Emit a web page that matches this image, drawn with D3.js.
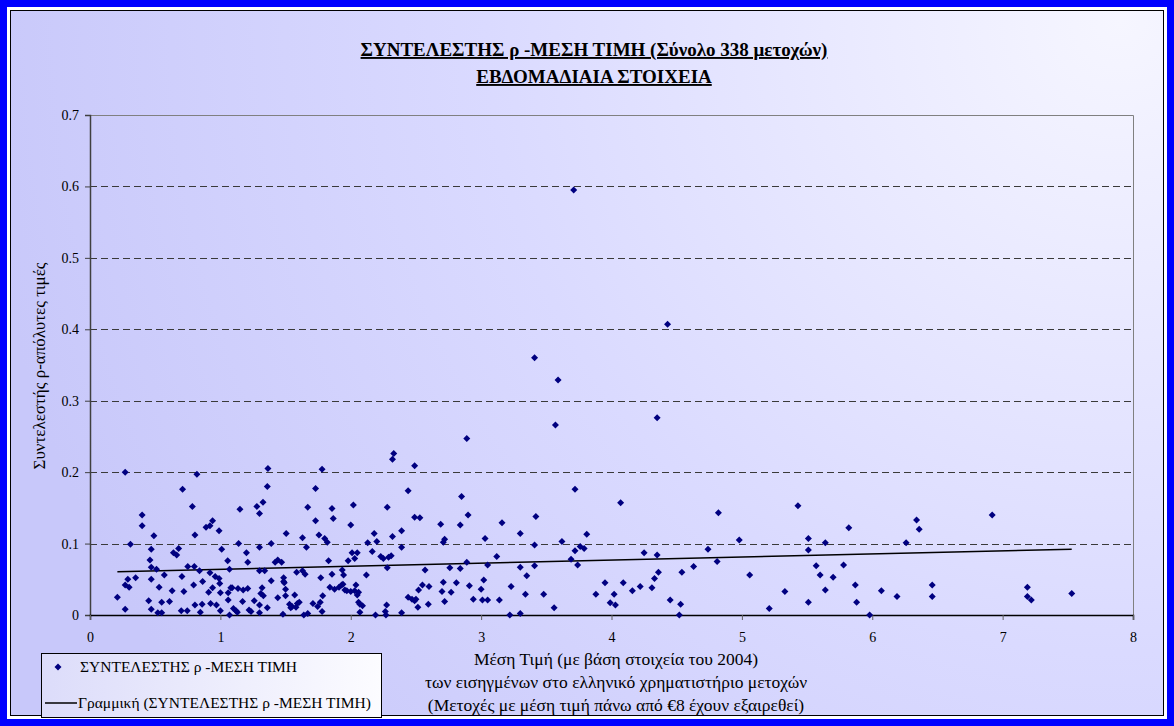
<!DOCTYPE html>
<html><head><meta charset="utf-8">
<script src="https://cdn.jsdelivr.net/npm/d3@7"></script>
<style>body{margin:0;background:#fff}svg{display:block}</style>
</head><body>
<svg id="c" width="1174" height="726"></svg>
<script>
const priceX = [0.27,0.82,1.365,0.71,1.36,0.785,1.327,1.28,1.30,1.15,0.40,0.40,0.49,0.805,0.89,0.92,0.94,0.99,0.31,1.14,1.30,1.39,0.47,0.68,0.64,0.665,1.01,1.20,0.46,1.056,1.21,1.42,1.44,0.47,0.51,0.75,0.80,0.84,0.92,1.07,1.30,1.34,0.57,0.705,0.96,0.99,0.29,0.35,0.47,0.864,0.995,0.27,0.30,0.53,0.795,0.94,1.08,1.09,1.135,1.175,1.21,1.32,1.39,1.44,0.63,0.72,0.91,1.0,1.06,1.31,1.33,0.21,0.45,0.55,0.61,1.06,1.17,1.26,0.805,0.86,0.925,0.97,1.30,0.27,0.47,0.70,0.746,0.846,1.0,1.10,1.12,1.13,1.22,1.235,1.30,1.36,0.52,0.55,1.07,1.47,
2.89,2.33,2.32,1.78,2.49,1.73,2.44,2.85,1.67,1.856,2.02,2.28,1.73,1.866,2.49,2.53,2.90,2.00,2.69,2.84,1.505,2.18,2.39,1.756,1.63,1.80,1.82,2.32,2.20,2.13,2.72,2.71,1.66,2.39,2.165,2.01,2.05,2.03,2.23,2.25,2.29,2.31,1.83,1.98,2.89,2.28,1.935,1.63,2.57,2.76,2.84,1.585,1.65,1.856,1.945,2.12,1.485,1.77,1.485,1.49,2.04,2.55,2.60,2.71,2.81,2.91,1.50,1.84,1.876,1.91,1.93,1.94,1.955,1.97,2.0,2.03,2.06,2.52,2.70,2.77,1.57,1.50,1.785,2.05,2.44,2.47,2.49,2.50,2.72,1.605,1.53,1.55,1.54,1.58,1.59,1.71,1.746,1.766,1.78,2.06,2.07,2.09,2.07,2.275,2.515,2.595,1.48,1.64,1.67,2.19,2.265,2.27,2.39,
3.41,3.59,3.57,4.35,3.72,4.07,3.16,3.42,3.03,3.30,3.62,3.81,3.41,3.72,3.76,3.79,3.69,3.74,4.25,4.35,3.12,3.05,3.30,3.41,3.35,4.36,4.33,3.02,3.00,3.23,3.95,4.09,4.16,4.22,4.31,2.94,3.01,3.05,3.14,3.34,3.48,3.88,4.02,3.99,4.03,3.56,3.22,3.30,3.71,4.43,
4.82,5.43,5.82,4.98,5.51,5.51,5.64,4.74,4.81,4.63,4.54,5.06,5.57,5.60,5.70,5.78,4.45,4.53,4.52,5.33,5.64,5.51,5.21,
6.34,6.36,6.92,6.26,5.87,5.88,5.98,6.07,6.19,6.46,6.46,7.19,7.19,7.22,7.53];
const rhoY = [0.200,0.197,0.205,0.176,0.180,0.152,0.158,0.152,0.142,0.148,0.140,0.125,0.111,0.112,0.123,0.125,0.132,0.118,0.099,0.100,0.095,0.100,0.092,0.093,0.087,0.084,0.092,0.087,0.077,0.076,0.074,0.074,0.077,0.067,0.064,0.068,0.068,0.062,0.059,0.064,0.062,0.062,0.056,0.054,0.054,0.051,0.050,0.052,0.050,0.047,0.044,0.042,0.039,0.039,0.042,0.038,0.038,0.038,0.037,0.035,0.037,0.038,0.048,0.024,0.034,0.033,0.032,0.031,0.031,0.030,0.027,0.025,0.020,0.018,0.019,0.021,0.019,0.020,0.014,0.015,0.016,0.014,0.014,0.008,0.008,0.006,0.006,0.004,0.006,0.009,0.006,0.004,0.007,0.005,0.003,0.010,0.003,0.003,0.0,0.074,
0.247,0.226,0.218,0.204,0.209,0.177,0.174,0.166,0.151,0.149,0.154,0.151,0.132,0.135,0.137,0.136,0.140,0.126,0.127,0.126,0.114,0.114,0.118,0.112,0.108,0.107,0.102,0.110,0.103,0.101,0.106,0.102,0.095,0.095,0.089,0.087,0.087,0.079,0.082,0.079,0.081,0.083,0.076,0.076,0.074,0.066,0.063,0.062,0.063,0.066,0.065,0.060,0.057,0.057,0.056,0.056,0.052,0.052,0.047,0.045,0.042,0.042,0.040,0.046,0.045,0.041,0.036,0.039,0.036,0.039,0.042,0.043,0.035,0.034,0.033,0.034,0.032,0.035,0.033,0.032,0.028,0.027,0.027,0.028,0.025,0.022,0.020,0.022,0.019,0.018,0.015,0.012,0.010,0.011,0.016,0.016,0.012,0.018,0.005,0.018,0.015,0.013,0.004,0.014,0.011,0.015,0.001,0.0,0.002,0.0,0.005,0.0,0.003,
0.360,0.329,0.266,0.276,0.176,0.157,0.129,0.138,0.107,0.114,0.103,0.113,0.098,0.090,0.096,0.093,0.078,0.070,0.087,0.084,0.082,0.070,0.067,0.069,0.055,0.060,0.051,0.049,0.036,0.040,0.045,0.045,0.034,0.040,0.038,0.022,0.021,0.021,0.021,0.029,0.029,0.029,0.029,0.017,0.014,0.010,0.0,0.002,0.595,0.407,
0.143,0.153,0.122,0.105,0.107,0.091,0.101,0.092,0.075,0.068,0.060,0.056,0.069,0.056,0.053,0.070,0.021,0.015,0.0,0.033,0.035,0.018,0.009,
0.133,0.120,0.140,0.101,0.042,0.018,0.0,0.034,0.026,0.042,0.026,0.039,0.026,0.021,0.030];
const xTicks = [0,1,2,3,4,5,6,7,8];
const yTicks = [0,0.1,0.2,0.3,0.4,0.5,0.6,0.7];
const trendIntercept = 0.0598, trendSlope = 0.00427;
const titleLines = ["ΣΥΝΤΕΛΕΣΤΗΣ ρ -ΜΕΣΗ ΤΙΜΗ (Σύνολο 338 μετοχών)", "ΕΒΔΟΜΑΔΙΑΙΑ ΣΤΟΙΧΕΙΑ"];
const xTitleLines = ["Μέση Τιμή (με βάση στοιχεία του 2004)", "των εισηγμένων στο ελληνικό χρηματιστήριο μετοχών", "(Μετοχές με μέση τιμή πάνω από €8 έχουν εξαιρεθεί)"];
const yTitle = "Συντελεστής ρ-απόλυτες τιμές";
const legendLabels = ["ΣΥΝΤΕΛΕΣΤΗΣ ρ -ΜΕΣΗ ΤΙΜΗ", "Γραμμική (ΣΥΝΤΕΛΕΣΤΗΣ ρ -ΜΕΣΗ ΤΙΜΗ)"];

const svg = d3.select("#c");
const F = "'Liberation Serif', 'Times New Roman', serif";
const defs = svg.append("defs");
const g1 = defs.append("radialGradient").attr("id","bg").attr("gradientUnits","userSpaceOnUse")
  .attr("cx",1120).attr("cy",20).attr("r",1150);
g1.append("stop").attr("offset",0).attr("stop-color","#F6F6FF");
g1.append("stop").attr("offset",0.55).attr("stop-color","#DADAFF");
g1.append("stop").attr("offset",1).attr("stop-color","#C8C8FA");
const g2 = defs.append("linearGradient").attr("id","lg").attr("x1",0).attr("x2",1).attr("y1",0).attr("y2",0);
g2.append("stop").attr("offset",0).attr("stop-color","#DCDCFA");
g2.append("stop").attr("offset",1).attr("stop-color","#FCFCFF");

svg.append("rect").attr("x",0).attr("y",0).attr("width",1174).attr("height",726).attr("fill","#0000FF");
svg.append("rect").attr("x",7).attr("y",7).attr("width",1160).attr("height",712).attr("fill","#fff");
svg.append("rect").attr("x",10.5).attr("y",10.5).attr("width",1153).attr("height",705).attr("fill","url(#bg)").attr("stroke","#000").attr("stroke-width",1);

const x = d3.scaleLinear().domain([0,8]).range([90,1133]);
const y = d3.scaleLinear().domain([0,0.7]).range([615,115]);

svg.append("g").selectAll("line").data(yTicks.filter(d=>d>0 && d<0.7)).join("line")
  .attr("x1",x(0)).attr("x2",x(8)).attr("y1",d=>Math.round(y(d))+0.5).attr("y2",d=>Math.round(y(d))+0.5)
  .attr("stroke","#3a3a3a").attr("stroke-width",1).attr("stroke-dasharray","7,4");
svg.append("path").attr("d",`M${x(0)},${Math.round(y(0.7))+0.5}H${x(8)+0.5}V${y(0)}`)
  .attr("fill","none").attr("stroke","#808080").attr("stroke-width",1);

const yAx = svg.append("g").attr("transform",`translate(${x(0)},0)`)
  .call(d3.axisLeft(y).tickValues(yTicks).tickSize(5).tickPadding(6).tickFormat(d=>d===0?"0":d3.format(".1f")(d)));
yAx.select(".domain").attr("stroke","#404040").attr("stroke-width",1.5);
yAx.selectAll(".tick line").attr("stroke","#404040");
yAx.selectAll("text").attr("font-family",F).attr("font-size",14).attr("fill","#000");

const xAx = svg.append("g").attr("transform",`translate(0,${y(0)})`)
  .call(d3.axisBottom(x).tickValues(xTicks).tickSize(5).tickPadding(12).tickFormat(d3.format("d")));
xAx.select(".domain").attr("stroke","#000").attr("stroke-width",1.5);
xAx.selectAll(".tick line").attr("stroke","#606060");
xAx.selectAll("text").attr("font-family",F).attr("font-size",14).attr("fill","#000");

const tx = [d3.min(priceX), d3.max(priceX)];
svg.append("line").attr("x1",x(tx[0])).attr("x2",x(tx[1]))
  .attr("y1",y(trendIntercept+trendSlope*tx[0])).attr("y2",y(trendIntercept+trendSlope*tx[1]))
  .attr("stroke","#000").attr("stroke-width",1.5);

const diamond = "M0,-3.5L3.5,0L0,3.5L-3.5,0Z";
svg.append("g").selectAll("path").data(priceX.map((v,i)=>[v,rhoY[i]])).join("path")
  .attr("d",diamond).attr("transform",d=>`translate(${x(d[0])},${y(d[1])})`)
  .attr("fill","#000080");

const t = svg.append("text").attr("text-anchor","middle").attr("font-family",F).attr("font-size",19)
  .attr("font-weight","bold").attr("text-decoration","underline").attr("fill","#000");
t.append("tspan").attr("x",594).attr("y",56).text(titleLines[0]);
t.append("tspan").attr("x",594).attr("y",83).text(titleLines[1]);

svg.append("text").attr("transform","translate(45,366) rotate(-90)").attr("text-anchor","middle")
  .attr("font-family",F).attr("font-size",17).text(yTitle);

svg.append("g").selectAll("text").data(xTitleLines).join("text")
  .attr("x",616).attr("y",(d,i)=>665+i*23).attr("text-anchor","middle")
  .attr("font-family",F).attr("font-size",17.5).text(d=>d);

const lg = svg.append("g");
lg.append("rect").attr("x",41.5).attr("y",653.5).attr("width",340).attr("height",64)
  .attr("fill","url(#lg)").attr("stroke","#000").attr("stroke-width",1);
lg.append("path").attr("d",diamond).attr("transform","translate(58,667)").attr("fill","#000080");
lg.append("line").attr("x1",45).attr("x2",77).attr("y1",703).attr("y2",703).attr("stroke","#000").attr("stroke-width",1.5);
lg.selectAll("text.l").data(legendLabels).join("text").attr("class","l")
  .attr("x",(d,i)=>i===0?80:78).attr("y",(d,i)=>672+i*36)
  .attr("font-family",F).attr("font-size",15.5).text(d=>d);
</script>
</body></html>
